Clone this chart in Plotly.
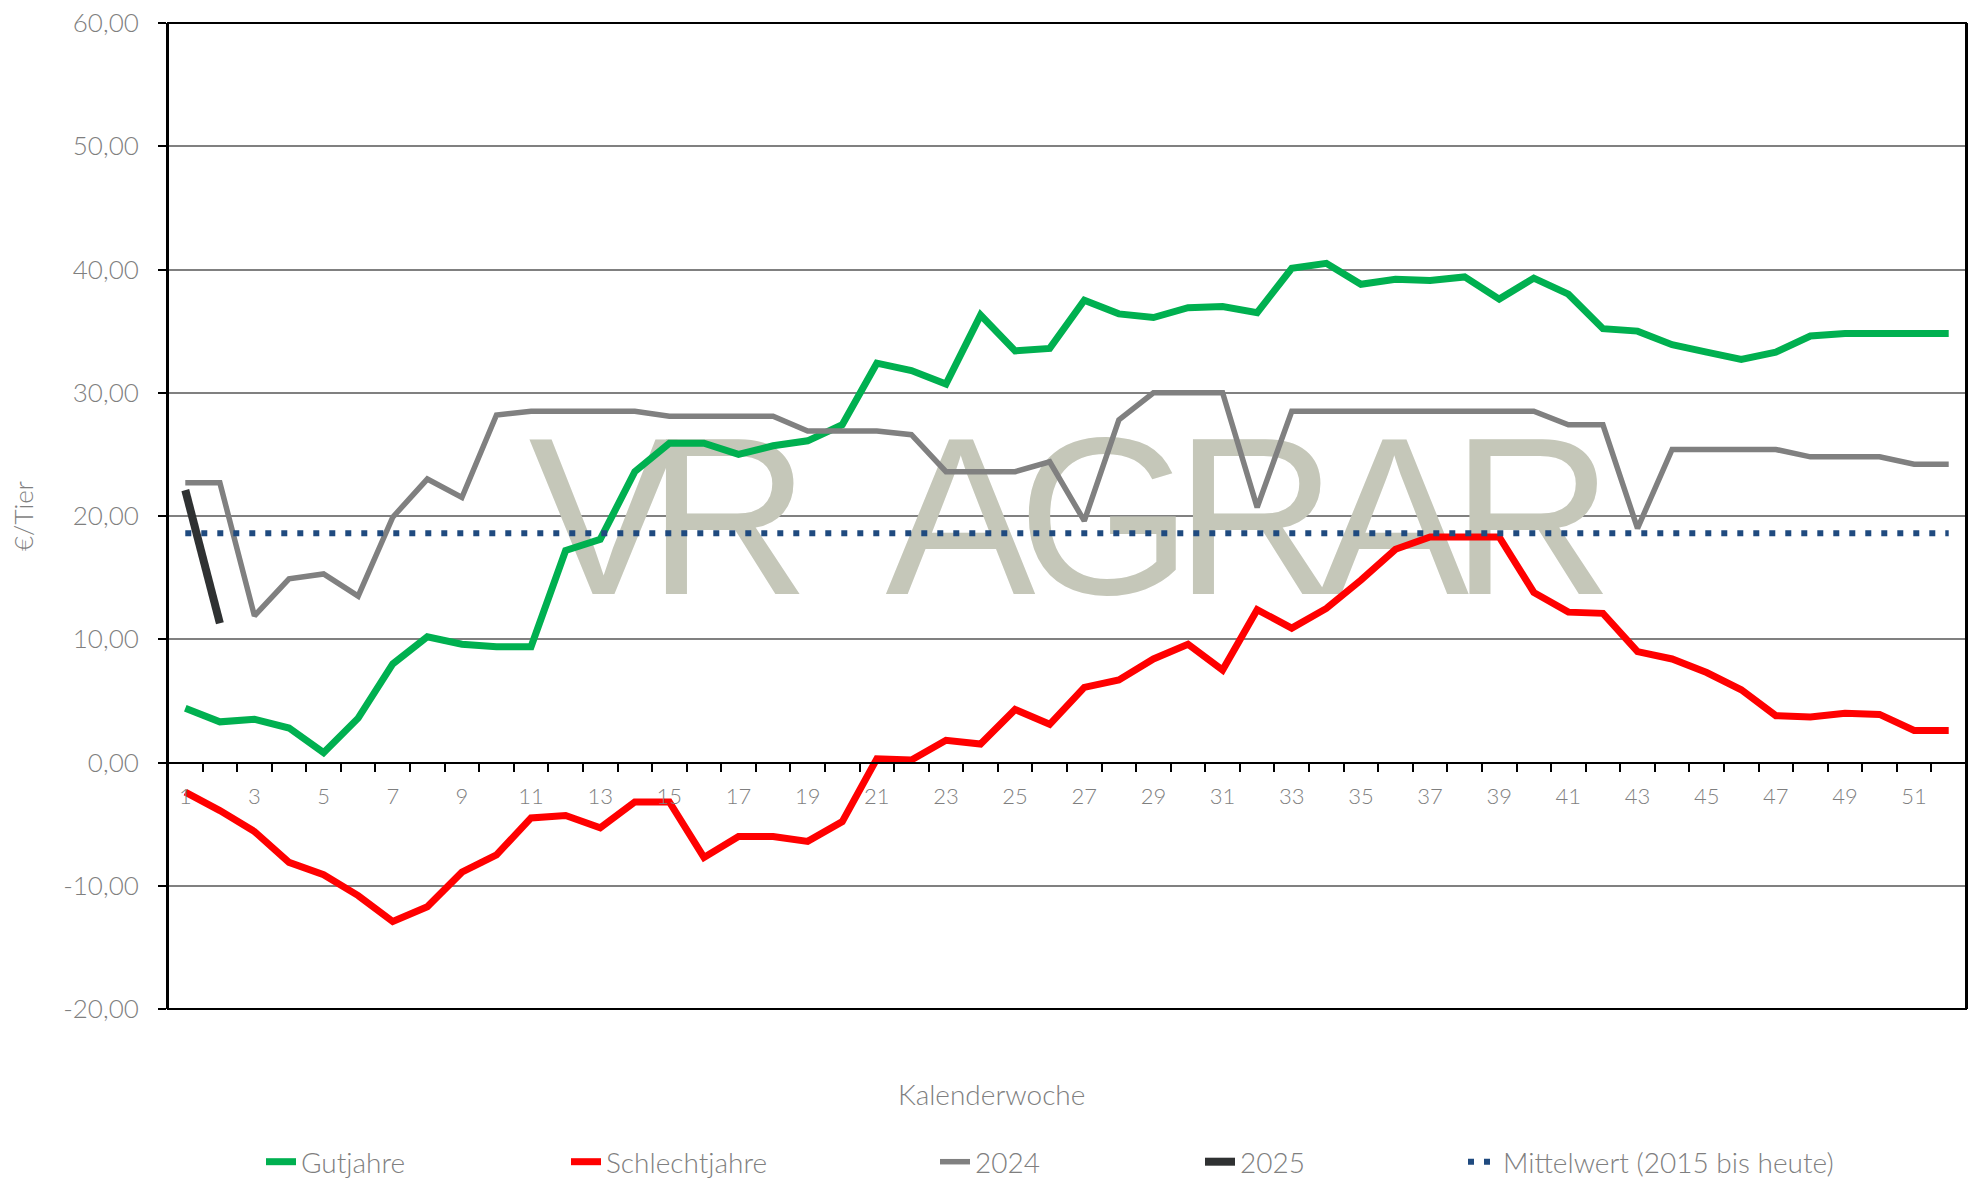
import plotly.graph_objects as go

# ---------------- data ----------------
WEEKS = [1, 2, 3, 4, 5, 6, 7, 8, 9, 10, 11, 12, 13, 14, 15, 16, 17, 18, 19, 20,
         21, 22, 23, 24, 25, 26, 27, 28, 29, 30, 31, 32, 33, 34, 35, 36, 37, 38, 39, 40,
         41, 42, 43, 44, 45, 46, 47, 48, 49, 50, 51, 52]

GUTJAHRE = [4.4, 3.3, 3.5, 2.8, 0.8, 3.6, 8.0, 10.2, 9.6, 9.4, 9.4, 17.2, 18.1, 23.6, 25.9, 25.9,
            25.0, 25.7, 26.1, 27.4, 32.4, 31.8, 30.7, 36.3, 33.4, 33.6, 37.5, 36.4, 36.1, 36.9,
            37.0, 36.5, 40.1, 40.5, 38.8, 39.2, 39.1, 39.4, 37.6, 39.3, 38.0, 35.2, 35.0, 33.9,
            33.3, 32.7, 33.3, 34.6, 34.8, 34.8, 34.8, 34.8]

SCHLECHTJAHRE = [-2.4, -3.9, -5.6, -8.1, -9.1, -10.8, -12.9, -11.7, -8.9, -7.5, -4.5, -4.3, -5.3,
                 -3.2, -3.2, -7.7, -6.0, -6.0, -6.4, -4.8, 0.3, 0.2, 1.8, 1.5, 4.3, 3.1, 6.1, 6.7,
                 8.4, 9.6, 7.5, 12.4, 10.9, 12.5, 14.8, 17.3, 18.3, 18.3, 18.3, 13.8, 12.2, 12.1,
                 9.0, 8.4, 7.3, 5.9, 3.8, 3.7, 4.0, 3.9, 2.6, 2.6]

JAHR_2024 = [22.7, 22.7, 11.9, 14.9, 15.3, 13.5, 19.9, 23.0, 21.5, 28.2, 28.5, 28.5, 28.5, 28.5,
             28.1, 28.1, 28.1, 28.1, 26.9, 26.9, 26.9, 26.6, 23.6, 23.6, 23.6, 24.4, 19.6, 27.8,
             30.0, 30.0, 30.0, 20.7, 28.5, 28.5, 28.5, 28.5, 28.5, 28.5, 28.5, 28.5, 27.4, 27.4,
             19.0, 25.4, 25.4, 25.4, 25.4, 24.8, 24.8, 24.8, 24.2, 24.2]

WEEKS_2025 = [1, 2]
JAHR_2025 = [22.1, 11.3]

MITTELWERT = 18.6  # Mittelwert (2015 bis heute)

X_TICK_VALUES = [1, 3, 5, 7, 9, 11, 13, 15, 17, 19, 21, 23, 25, 27, 29, 31, 33, 35, 37, 39, 41,
                 43, 45, 47, 49, 51]
X_TICK_LABELS = ["1", "3", "5", "7", "9", "11", "13", "15", "17", "19", "21", "23", "25", "27",
                 "29", "31", "33", "35", "37", "39", "41", "43", "45", "47", "49", "51"]
Y_TICK_VALUES = [-20, -10, 0, 10, 20, 30, 40, 50, 60]
Y_TICK_LABELS = ["-20,00", "-10,00", "0,00", "10,00", "20,00", "30,00", "40,00", "50,00", "60,00"]

SERIES_NAMES = ["Gutjahre", "Schlechtjahre", "2024", "2025", "Mittelwert (2015 bis heute)"]

# watermark (background decoration)
WATERMARK_WORDS = ["VR", "AGRAR"]
WATERMARK_X = 26.355
WATERMARK_Y = 18.25

# ---------------- style ----------------
FONT = "Lato, Open Sans, sans-serif"
TEXT_GREY = "#7f7f7f"
W, H = 1983, 1183
M_L, M_R, M_T, M_B = 168, 17, 23, 174
PW = W - M_L - M_R
PH = H - M_T - M_B


def px_x(px):
    return (px - M_L) / PW


def px_y(py):
    return (H - M_B - py) / PH


watermark_html = (
    '<span style="letter-spacing:-31px">' + WATERMARK_WORDS[0] + '</span>'
    '<span style="letter-spacing:44px"> </span>'
    '<span style="letter-spacing:-18px">' + WATERMARK_WORDS[1] + '</span>'
)

fig = go.Figure()

# watermark behind the lines (single condensed string)
fig.add_trace(go.Scatter(
    x=[WATERMARK_X], y=[WATERMARK_Y], mode="text", text=[watermark_html],
    textfont=dict(family="Liberation Sans, Arial, sans-serif", size=225, color="#c5c7b9",
                  weight=400),
    textposition="middle center", showlegend=False, hoverinfo="skip", cliponaxis=False,
))

fig.add_trace(go.Scatter(x=WEEKS, y=GUTJAHRE, name=SERIES_NAMES[0], mode="lines",
                         line=dict(color="#00b050", width=7), legend="legend"))
fig.add_trace(go.Scatter(x=WEEKS, y=SCHLECHTJAHRE, name=SERIES_NAMES[1], mode="lines",
                         line=dict(color="#ff0000", width=7), legend="legend2"))
fig.add_trace(go.Scatter(x=WEEKS, y=JAHR_2024, name=SERIES_NAMES[2], mode="lines",
                         line=dict(color="#808080", width=5.5), legend="legend3"))
fig.add_trace(go.Scatter(x=WEEKS_2025, y=JAHR_2025, name=SERIES_NAMES[3], mode="lines",
                         line=dict(color="#2f3132", width=8), legend="legend4"))
fig.add_trace(go.Scatter(x=[WEEKS[0], WEEKS[-1]], y=[MITTELWERT, MITTELWERT], name=SERIES_NAMES[4],
                         mode="lines", line=dict(color="#1f4a7f", width=6, dash="6px,10px"),
                         legend="legend5"))

minor_ticks = [w - 0.5 for w in WEEKS] + [WEEKS[-1] + 0.5]

legend_font = dict(family=FONT, size=28, color=TEXT_GREY, weight=300)
legend_y = px_y(1162)
legend_text_starts = [301, 606, 975, 1240, 1503]


def legend_at(text_px):
    return dict(x=px_x(text_px - 40), y=legend_y, xanchor="left", yanchor="middle",
                orientation="h", font=legend_font, bgcolor="rgba(0,0,0,0)",
                itemclick=False, itemdoubleclick=False)


fig.update_layout(
    width=W, height=H,
    margin=dict(l=M_L, r=M_R, t=M_T, b=M_B, pad=0, autoexpand=False),
    paper_bgcolor="white", plot_bgcolor="white",
    font=dict(family=FONT, color=TEXT_GREY, weight=300),
    showlegend=True,
    legend=legend_at(legend_text_starts[0]),
    legend2=legend_at(legend_text_starts[1]),
    legend3=legend_at(legend_text_starts[2]),
    legend4=legend_at(legend_text_starts[3]),
    legend5=legend_at(legend_text_starts[4]),
    xaxis=dict(
        range=[WEEKS[0] - 0.5, WEEKS[-1] + 0.5],
        anchor="free", position=0.25,
        showline=True, linecolor="black", linewidth=2,
        showgrid=False, zeroline=False,
        tickmode="array", tickvals=X_TICK_VALUES, ticktext=X_TICK_LABELS,
        ticks="outside", ticklen=8, tickcolor="rgba(0,0,0,0)",
        ticklabelstandoff=6,
        tickfont=dict(family=FONT, size=22, color=TEXT_GREY, weight=300),
        minor=dict(tickmode="array", tickvals=minor_ticks, ticks="outside", ticklen=8,
                   tickwidth=2, tickcolor="black", showgrid=False),
    ),
    yaxis=dict(
        range=[-20, 60],
        tickmode="array", tickvals=Y_TICK_VALUES, ticktext=Y_TICK_LABELS,
        showline=True, linecolor="black", linewidth=2, mirror=True,
        ticks="outside", ticklen=8, tickwidth=2, tickcolor="black",
        ticklabelstandoff=14,
        showgrid=True, gridcolor="#808080", gridwidth=1.5,
        zeroline=False,
        tickfont=dict(family=FONT, size=26, color=TEXT_GREY, weight=300),
    ),
    shapes=[dict(type="rect", xref="paper", yref="paper", x0=0, x1=1, y0=0, y1=1,
                 line=dict(color="black", width=2), layer="above")],
    annotations=[
        dict(text="Kalenderwoche", xref="paper", yref="paper", x=px_x(991), y=px_y(1094),
             xanchor="center", yanchor="middle", showarrow=False,
             font=dict(family=FONT, size=28, color=TEXT_GREY, weight=300)),
        dict(text="€/Tier", xref="paper", yref="paper", x=px_x(23), y=0.5,
             xanchor="center", yanchor="middle", textangle=-90, showarrow=False,
             font=dict(family=FONT, size=26, color=TEXT_GREY, weight=300)),
    ],
)

fig.write_html("out.html", config={"displayModeBar": False},
               post_script="document.body.style.margin='0';")
